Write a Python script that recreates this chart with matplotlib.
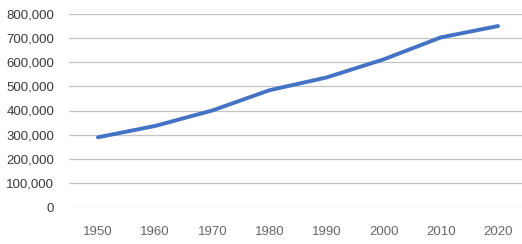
import matplotlib
matplotlib.use('Agg')
from matplotlib import pyplot as plt
from matplotlib.ticker import FuncFormatter

years = ['1950', '1960', '1970', '1980', '1990', '2000', '2010', '2020']
population = [289000, 336000, 400000, 484000, 537000, 612000, 703000, 750000]

plt.rcParams['font.family'] = ['Liberation Sans', 'DejaVu Sans']

fig = plt.figure(figsize=(5.22, 2.44), dpi=100)
ax = fig.add_axes([69.4 / 522, 37 / 244, 457.2 / 522, 193 / 244])

x = range(len(years))
ax.plot(x, population, color='#4472C4', linewidth=2.8, solid_capstyle='round', zorder=3)

ax.set_xlim(-0.5, len(years) - 0.5)
ax.set_ylim(0, 800000)
ax.set_yticks(range(0, 800001, 100000))
ax.yaxis.set_major_formatter(FuncFormatter(lambda v, p: f'{int(v):,}'))
ax.set_xticks(list(x))
ax.set_xticklabels(years)

ax.grid(axis='y', color='#C4C4C4', linewidth=0.9)
ax.set_axisbelow(True)
for s in ax.spines.values():
    s.set_visible(False)
ax.tick_params(axis='both', length=0, labelsize=9.5)
ax.tick_params(axis='y', pad=11, labelcolor='#3A3A3A')
ax.tick_params(axis='x', pad=14, labelcolor='#666666')

fig.savefig('out.png', dpi=100)
